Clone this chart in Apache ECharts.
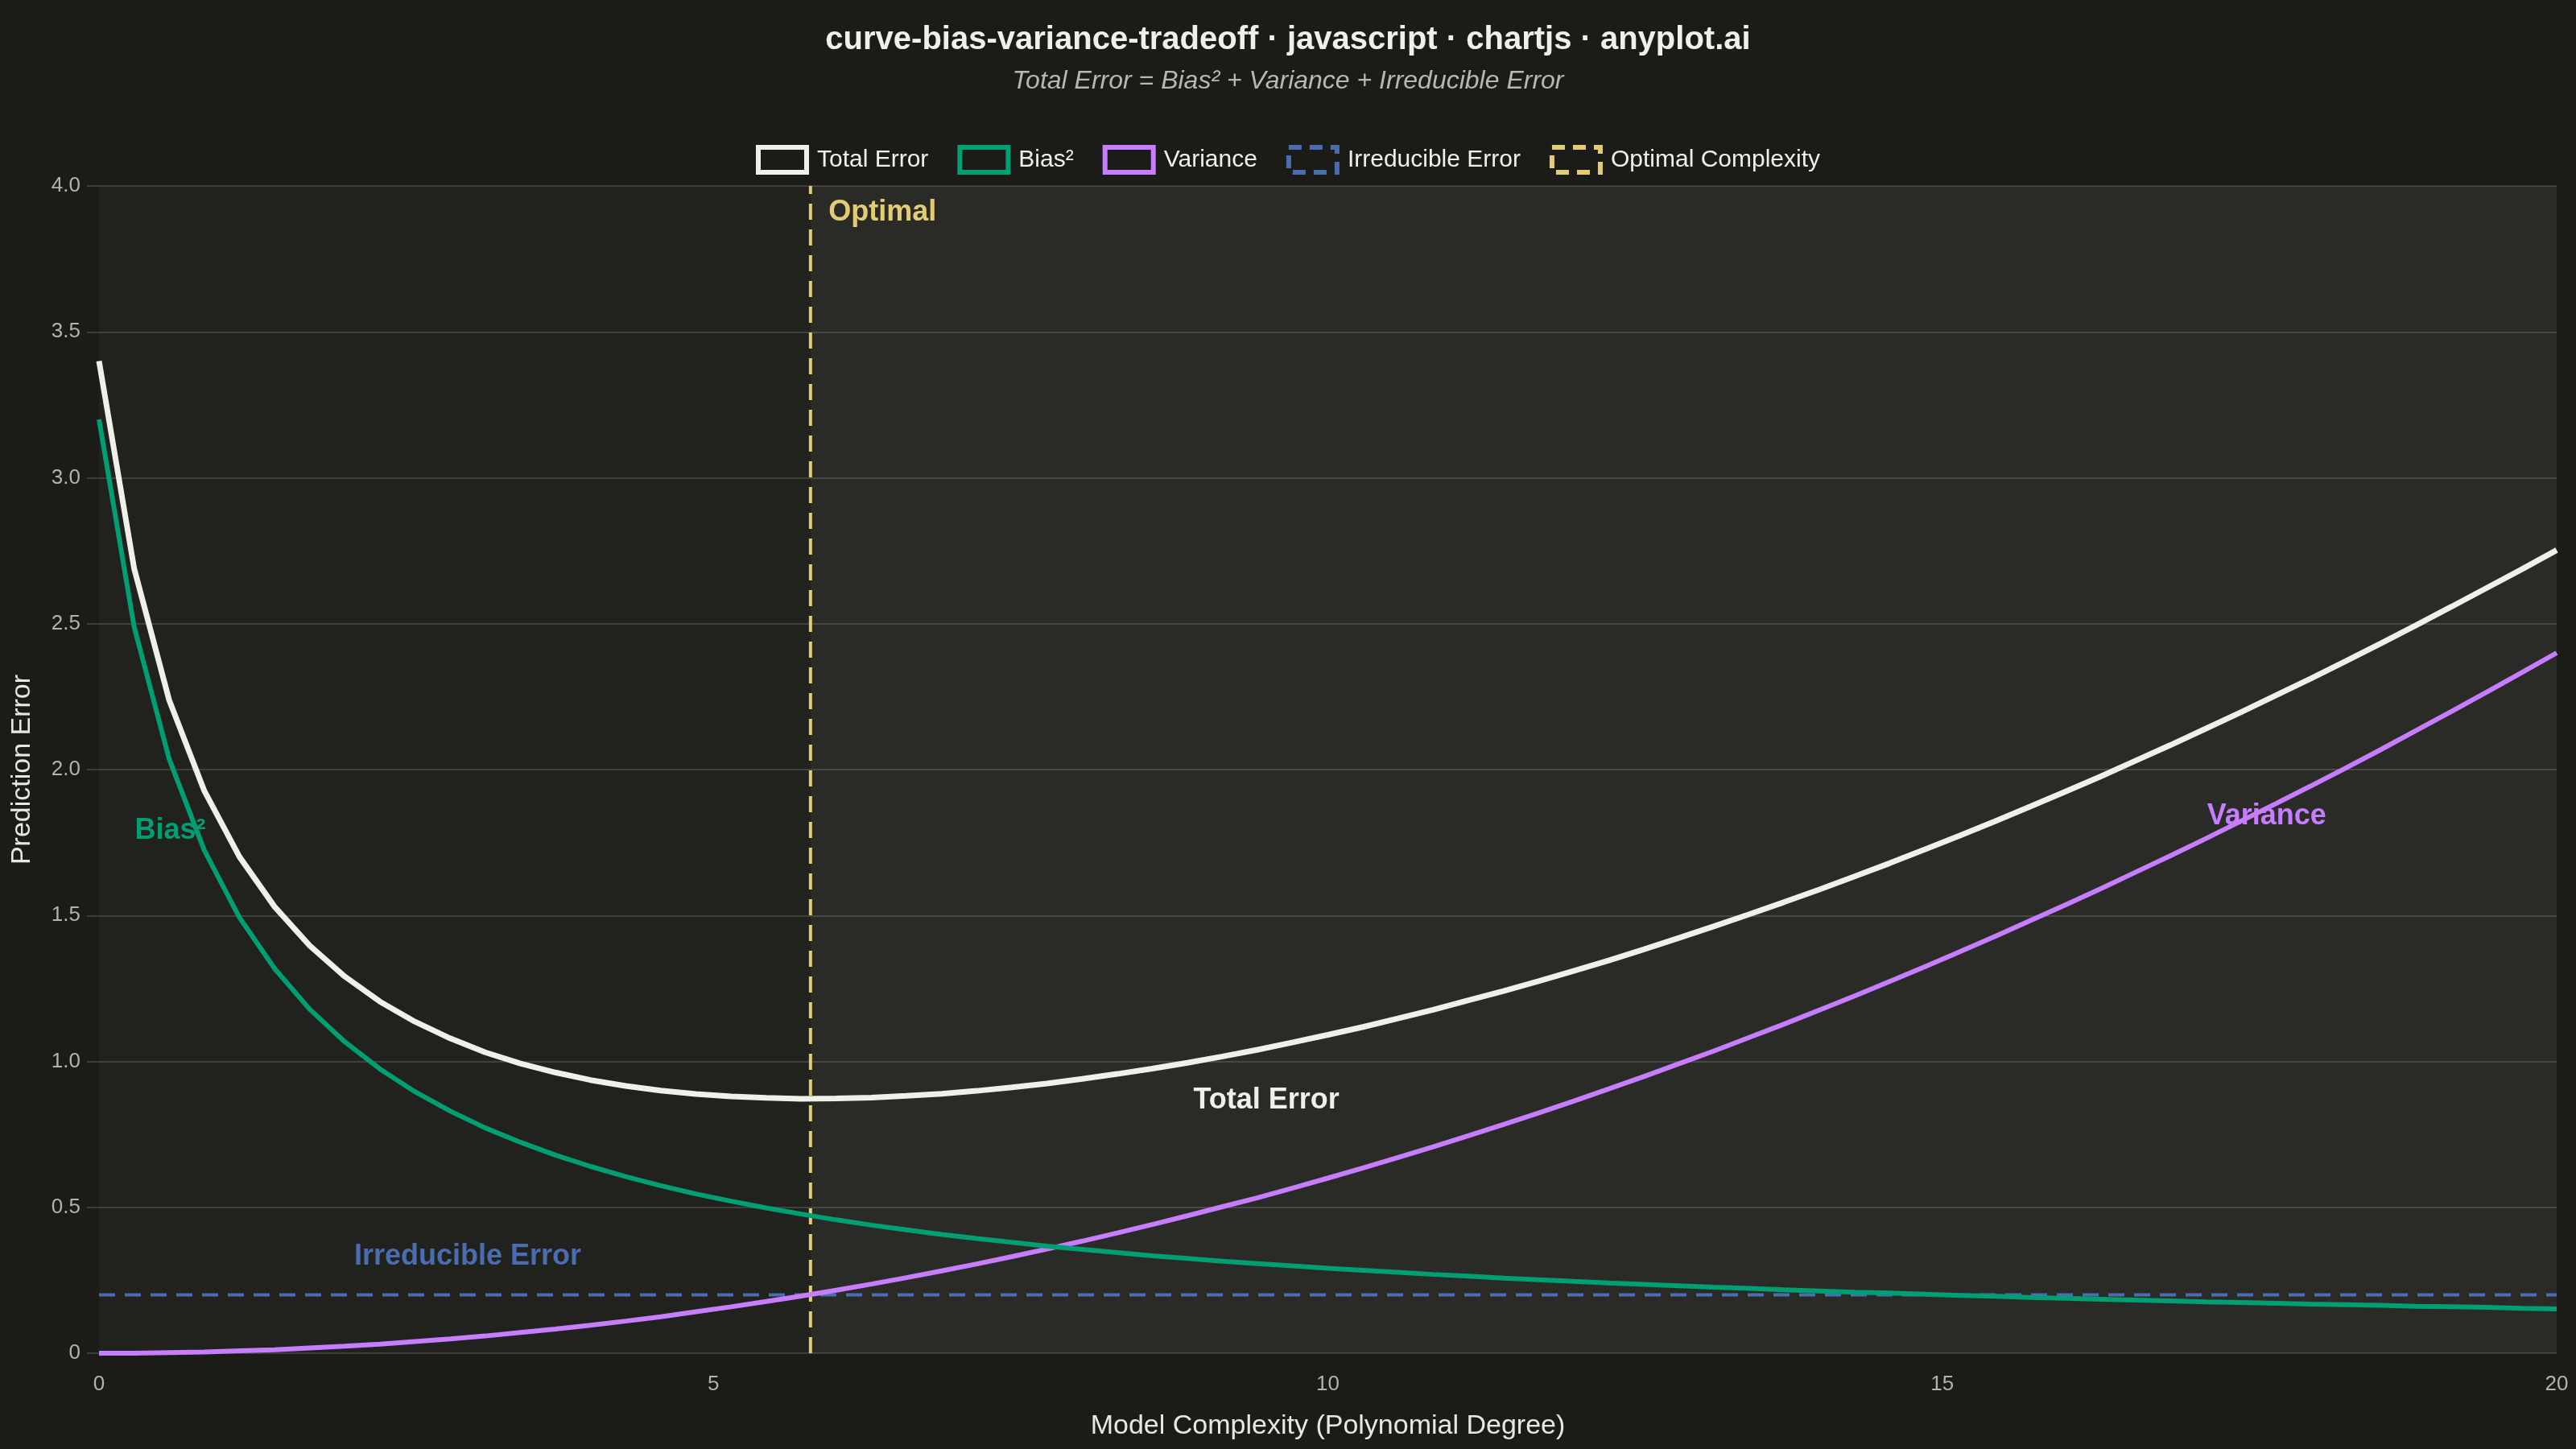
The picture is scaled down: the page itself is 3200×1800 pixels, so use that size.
<!DOCTYPE html>
<html>
<head>
<meta charset="utf-8">
<title>curve-bias-variance-tradeoff</title>
<script src="https://cdn.jsdelivr.net/npm/echarts@6/dist/echarts.min.js"></script>
<style>
    html, body { margin: 0; padding: 0; background: #1b1b18; }
    #main-chart { width: 3200px; height: 1800px; }
</style>
</head>
<body>
<div id="main-chart"></div>
<script>
// Data
const complexity = [
    0, 0.286, 0.571, 0.857, 1.143, 1.429, 1.714, 2, 2.286, 2.571, 2.857, 3.143, 3.429, 3.714,
    4, 4.286, 4.571, 4.857, 5.143, 5.429, 5.714, 6, 6.286, 6.571, 6.857, 7.143, 7.429, 7.714,
    8, 8.286, 8.571, 8.857, 9.143, 9.429, 9.714, 10, 10.286, 10.571, 10.857, 11.143, 11.429, 11.714,
    12, 12.286, 12.571, 12.857, 13.143, 13.429, 13.714, 14, 14.286, 14.571, 14.857, 15.143, 15.429, 15.714,
    16, 16.286, 16.571, 16.857, 17.143, 17.429, 17.714, 18, 18.286, 18.571, 18.857, 19.143, 19.429, 19.714, 20
];
const biasSquared = [
    3.200, 2.489, 2.036, 1.723, 1.493, 1.318, 1.179, 1.067, 0.974, 0.896, 0.830, 0.772, 0.723, 0.679,
    0.640, 0.605, 0.574, 0.546, 0.521, 0.498, 0.477, 0.457, 0.439, 0.423, 0.407, 0.393, 0.380, 0.367,
    0.356, 0.345, 0.334, 0.325, 0.315, 0.307, 0.299, 0.291, 0.284, 0.277, 0.270, 0.264, 0.257, 0.252,
    0.246, 0.241, 0.236, 0.231, 0.226, 0.222, 0.217, 0.213, 0.209, 0.206, 0.202, 0.198, 0.195, 0.191,
    0.188, 0.185, 0.182, 0.179, 0.176, 0.174, 0.171, 0.168, 0.166, 0.164, 0.161, 0.159, 0.157, 0.154, 0.152
];
const variance = [
    0.000, 0.000, 0.002, 0.004, 0.008, 0.012, 0.018, 0.024, 0.031, 0.040, 0.049, 0.059, 0.071, 0.083,
    0.096, 0.110, 0.125, 0.142, 0.159, 0.177, 0.196, 0.216, 0.237, 0.259, 0.282, 0.306, 0.331, 0.357,
    0.384, 0.412, 0.441, 0.471, 0.502, 0.533, 0.566, 0.600, 0.635, 0.671, 0.707, 0.745, 0.784, 0.823,
    0.864, 0.906, 0.948, 0.992, 1.036, 1.082, 1.128, 1.176, 1.224, 1.274, 1.324, 1.376, 1.428, 1.482,
    1.536, 1.591, 1.648, 1.705, 1.763, 1.823, 1.883, 1.944, 2.006, 2.069, 2.134, 2.199, 2.265, 2.332, 2.400
];
const totalError = [
    3.400, 2.689, 2.238, 1.927, 1.701, 1.530, 1.397, 1.291, 1.205, 1.136, 1.079, 1.031, 0.993, 0.962,
    0.936, 0.916, 0.900, 0.888, 0.880, 0.875, 0.872, 0.873, 0.876, 0.882, 0.889, 0.899, 0.911, 0.924,
    0.940, 0.957, 0.975, 0.995, 1.017, 1.040, 1.065, 1.091, 1.118, 1.147, 1.177, 1.209, 1.241, 1.275,
    1.310, 1.346, 1.384, 1.423, 1.463, 1.504, 1.546, 1.589, 1.634, 1.679, 1.726, 1.774, 1.823, 1.873,
    1.924, 1.976, 2.030, 2.084, 2.140, 2.196, 2.254, 2.312, 2.372, 2.433, 2.495, 2.558, 2.622, 2.686, 2.752
];
const irreducibleError = 0.2;
const optimalX = 5.79;
const xRange = [0, 20];
const yRange = [0, 4];

// Inline annotation labels
const annotationText = ['Bias²', 'Variance', 'Total Error', 'Irreducible Error', 'Optimal'];
const annotationX = [0.58, 17.64, 9.5, 3.0, 5.79];
const annotationY = [1.79, 1.84, 0.865, 0.33, 3.91];

// Colours
const colors = {
    total: '#f0efe8',
    bias: '#009e73',
    variance: '#c77dff',
    irreducible: '#4a6db0',
    optimal: '#e2cd76'
};
const annotationColors = [colors.bias, colors.variance, colors.total, colors.irreducible, colors.optimal];

const FONT = "'Liberation Sans', Arial, Helvetica, sans-serif";
const pairs = (xs, ys) => xs.map((x, i) => [x, ys[i]]);

const chart = echarts.init(document.getElementById('main-chart'), null, { renderer: 'canvas' });

function legendItem(name, color, dashed) {
    return {
        name: name,
        itemStyle: {
            color: '#1b1b18',
            borderColor: color,
            borderWidth: 6,
            borderType: dashed ? [16, 10] : 'solid'
        }
    };
}

const option = {
    backgroundColor: '#1b1b18',
    animation: false,
    textStyle: { fontFamily: FONT },
    title: [
        {
            text: 'curve-bias-variance-tradeoff · javascript · chartjs · anyplot.ai',
            left: 'center',
            top: 25,
            textStyle: { color: '#f0efe8', fontSize: 40, fontWeight: 'bold', fontFamily: FONT }
        },
        {
            text: 'Total Error = Bias² + Variance + Irreducible Error',
            left: 'center',
            top: 80,
            textStyle: { color: '#b8b7b0', fontSize: 32, fontStyle: 'italic', fontWeight: 'normal', fontFamily: FONT }
        }
    ],
    legend: {
        top: 175,
        left: 'center',
        icon: 'rect',
        itemWidth: 60,
        itemHeight: 31,
        itemGap: 36,
        textStyle: { color: '#f0efe8', fontSize: 30, fontFamily: FONT, padding: [0, 0, 0, 8] },
        data: [
            legendItem('Total Error', colors.total, false),
            legendItem('Bias²', colors.bias, false),
            legendItem('Variance', colors.variance, false),
            legendItem('Irreducible Error', colors.irreducible, true),
            legendItem('Optimal Complexity', colors.optimal, true)
        ]
    },
    grid: { left: 123, right: 24, top: 231, bottom: 119 },
    xAxis: {
        type: 'value',
        min: xRange[0],
        max: xRange[1],
        interval: 5,
        name: 'Model Complexity (Polynomial Degree)',
        nameLocation: 'middle',
        nameGap: 74,
        nameTextStyle: { color: '#e8e7e0', fontSize: 34, fontFamily: FONT },
        axisLine: { show: false },
        axisTick: { show: false },
        splitLine: { show: false },
        axisLabel: { color: '#b3b2ab', fontSize: 26, margin: 26, fontFamily: FONT }
    },
    yAxis: {
        type: 'value',
        min: yRange[0],
        max: yRange[1],
        interval: 0.5,
        name: 'Prediction Error',
        nameLocation: 'middle',
        nameGap: 78,
        nameTextStyle: { color: '#e8e7e0', fontSize: 34, fontFamily: FONT },
        axisLine: { show: false },
        axisTick: { show: true, length: 15, lineStyle: { color: '#3b3b37', width: 2 } },
        splitLine: { lineStyle: { color: '#3b3b37', width: 2 } },
        axisLabel: {
            color: '#b3b2ab',
            fontSize: 26,
            margin: 23,
            fontFamily: FONT,
            formatter: v => (v === 0 ? '0' : v.toFixed(1))
        }
    },
    series: [
        {
            name: 'Optimal Complexity',
            type: 'line',
            z: 2,
            showSymbol: false,
            data: [[optimalX, yRange[0]], [optimalX, yRange[1]]],
            lineStyle: { color: colors.optimal, width: 4, type: [20, 12] },
            itemStyle: { color: colors.optimal },
            markArea: {
                silent: true,
                data: [
                    [{ xAxis: xRange[0], itemStyle: { color: 'rgba(255,255,255,0.028)' } }, { xAxis: optimalX }],
                    [{ xAxis: optimalX, itemStyle: { color: 'rgba(255,255,255,0.066)' } }, { xAxis: xRange[1] }]
                ]
            }
        },
        {
            name: 'Irreducible Error',
            type: 'line',
            z: 3,
            showSymbol: false,
            data: [[xRange[0], irreducibleError], [xRange[1], irreducibleError]],
            lineStyle: { color: colors.irreducible, width: 4, type: [20, 12] },
            itemStyle: { color: colors.irreducible }
        },
        {
            name: 'Variance',
            type: 'line',
            z: 4,
            showSymbol: false,
            data: pairs(complexity, variance),
            lineStyle: { color: colors.variance, width: 6 },
            itemStyle: { color: colors.variance }
        },
        {
            name: 'Bias²',
            type: 'line',
            z: 5,
            showSymbol: false,
            data: pairs(complexity, biasSquared),
            lineStyle: { color: colors.bias, width: 6 },
            itemStyle: { color: colors.bias }
        },
        {
            name: 'Total Error',
            type: 'line',
            z: 6,
            showSymbol: false,
            data: pairs(complexity, totalError),
            lineStyle: { color: colors.total, width: 7 },
            itemStyle: { color: colors.total }
        },
        {
            name: 'annotations',
            type: 'scatter',
            z: 7,
            silent: true,
            symbolSize: 1,
            itemStyle: { color: 'rgba(0,0,0,0)', opacity: 1 },
            data: annotationText.map((text, i) => ({
                value: [annotationX[i], annotationY[i]],
                label: {
                    show: true,
                    formatter: text,
                    position: text === 'Optimal' ? 'right' : 'inside',
                    distance: 22,
                    color: annotationColors[i],
                    opacity: 1,
                    fontSize: 36,
                    fontWeight: 'bold',
                    fontFamily: FONT
                }
            }))
        }
    ]
};

chart.setOption(option);
</script>
</body>
</html>
